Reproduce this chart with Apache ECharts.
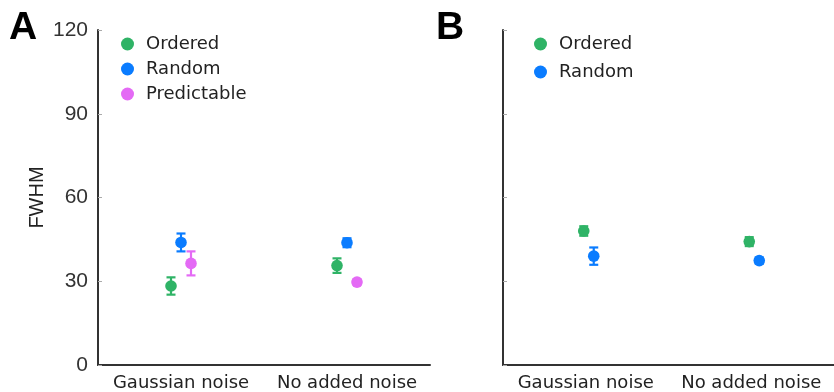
<!DOCTYPE html>
<html>
<head>
<meta charset="utf-8">
<script src="https://cdn.jsdelivr.net/npm/echarts@6/dist/echarts.min.js"></script>
<style>
  html, body { margin: 0; padding: 0; background: #fff; }
  #chart { width: 834px; height: 392px; }
</style>
</head>
<body>
<div id="chart"></div>
<script>
const categories = ['Gaussian noise', 'No added noise'];
const yTicks = [0, 30, 60, 90, 120];

// panel A: mean and error half-width per category
const aOrdered = [28.3, 35.6];
const aOrderedErr = [3.1, 2.6];
const aRandom = [43.9, 43.8];
const aRandomErr = [3.2, 1.6];
const aPredictable = [36.4, 29.7];
const aPredictableErr = [4.3, 1.0];

// panel B
const bOrdered = [48.0, 44.2];
const bOrderedErr = [1.7, 1.6];
const bRandom = [39.0, 37.4];
const bRandomErr = [3.1, 1.1];

const GREEN = '#2fb366';
const BLUE = '#0a7cff';
const PINK = '#e46af5';
const FONT = 'DejaVu Sans';
const NUM_FONT = "'Liberation Sans Narrow', 'Liberation Sans'";

function dotSeries(name, means, errs, color, offset, gridIdx) {
  return {
    type: 'custom',
    name: name,
    xAxisIndex: gridIdx,
    yAxisIndex: gridIdx,
    itemStyle: { color: color },
    encode: { x: 0, y: 1 },
    data: means.map((m, i) => [i, m, m - errs[i], m + errs[i]]),
    renderItem(params, api) {
      const c = api.coord([api.value(0), api.value(1)]);
      const lo = api.coord([api.value(0), api.value(2)]);
      const hi = api.coord([api.value(0), api.value(3)]);
      const x = c[0] + offset;
      const st = { stroke: color, lineWidth: 2.2 };
      return {
        type: 'group',
        children: [
          { type: 'line', shape: { x1: x, y1: lo[1], x2: x, y2: hi[1] }, style: st },
          { type: 'line', shape: { x1: x - 4.5, y1: lo[1], x2: x + 4.5, y2: lo[1] }, style: st },
          { type: 'line', shape: { x1: x - 4.5, y1: hi[1], x2: x + 4.5, y2: hi[1] }, style: st },
          { type: 'circle', shape: { cx: x, cy: c[1], r: 5.8 }, style: { fill: color } }
        ]
      };
    }
  };
}

function xAxis(gridIdx) {
  return {
    type: 'category',
    gridIndex: gridIdx,
    data: categories,
    boundaryGap: true,
    axisLine: { lineStyle: { color: '#333', width: 2 } },
    axisTick: { inside: true, length: 4, alignWithLabel: true, lineStyle: { color: '#aaa' } },
    axisLabel: { fontFamily: FONT, fontSize: 18, color: '#222', margin: 9, interval: 0 },
    splitLine: { show: false }
  };
}

function yAxis(gridIdx, showLabels) {
  return {
    type: 'value',
    gridIndex: gridIdx,
    min: yTicks[0],
    max: yTicks[yTicks.length - 1],
    interval: 30,
    name: showLabels ? 'FWHM' : '',
    nameLocation: 'middle',
    nameGap: 51,
    nameTextStyle: { fontFamily: 'Liberation Sans', fontSize: 20, color: '#222' },
    axisLine: { show: true, lineStyle: { color: '#333', width: 2 } },
    axisTick: { show: true, inside: true, length: 4, lineStyle: { color: '#aaa' } },
    axisLabel: { show: showLabels, fontFamily: NUM_FONT, fontSize: 21, color: '#333', margin: 10 },
    splitLine: { show: false }
  };
}

const chart = echarts.init(document.getElementById('chart'));
chart.setOption({
  backgroundColor: '#fff',
  animation: false,
  grid: [
    { left: 98, top: 30, width: 332, height: 335 },
    { left: 503, top: 30, width: 333, height: 335 }
  ],
  xAxis: [xAxis(0), xAxis(1)],
  yAxis: [yAxis(0, true), yAxis(1, false)],
  legend: [
    {
      data: ['Ordered', 'Random', 'Predictable'],
      orient: 'vertical', left: 116, top: 30,
      icon: 'circle', itemWidth: 21, itemHeight: 13, itemGap: 7,
      selectedMode: false,
      textStyle: { fontFamily: FONT, fontSize: 18, color: '#222', padding: [0, 0, 0, 3] }
    },
    {
      data: ['Ordered', 'Random'],
      orient: 'vertical', left: 529, top: 30,
      icon: 'circle', itemWidth: 21, itemHeight: 13, itemGap: 10,
      selectedMode: false,
      textStyle: { fontFamily: FONT, fontSize: 18, color: '#222', padding: [0, 0, 0, 3] }
    }
  ],
  graphic: [
    { type: 'text', left: 9, top: 9, style: { text: 'A', fontFamily: 'Liberation Sans', fontWeight: 'bold', fontSize: 39, fill: '#000' } },
    { type: 'text', left: 436, top: 9, style: { text: 'B', fontFamily: 'Liberation Sans', fontWeight: 'bold', fontSize: 39, fill: '#000' } }
  ],
  series: [
    dotSeries('Ordered', aOrdered, aOrderedErr, GREEN, -10, 0),
    dotSeries('Random', aRandom, aRandomErr, BLUE, 0, 0),
    dotSeries('Predictable', aPredictable, aPredictableErr, PINK, 10, 0),
    dotSeries('Ordered', bOrdered, bOrderedErr, GREEN, -2, 1),
    dotSeries('Random', bRandom, bRandomErr, BLUE, 8, 1)
  ]
});
</script>
</body>
</html>
